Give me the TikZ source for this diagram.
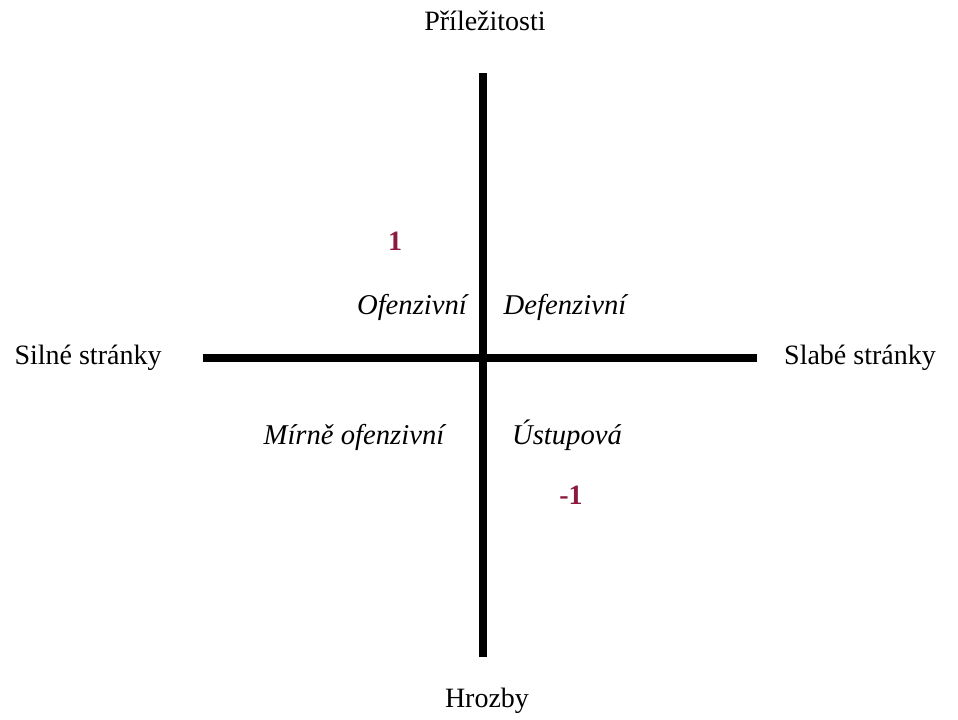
\documentclass[tikz,border=0pt]{standalone}
\usepackage{fontspec}
\setmainfont{Liberation Serif}
\definecolor{numred}{RGB}{139,26,60}
\begin{document}
\begin{tikzpicture}[x=0.75pt, y=-0.75pt]
    \useasboundingbox (0,0) rectangle (958,719);
    \tikzset{
        txt/.style={inner sep=0pt, text height=0.72em, text depth=0.22em},
        axislabel/.style={txt, font=\fontsize{21}{25}\selectfont},
        quadlabel/.style={txt, font=\fontsize{21.5}{25}\selectfont\itshape},
        numlabel/.style={txt, font=\fontsize{21}{25}\selectfont\bfseries, text=numred},
        axisline/.style={line width=6.7pt, black}
    }

    % 1. Koncové body os
    \path (483,73)  coordinate (T)
          (483,657) coordinate (B)
          (203,358) coordinate (L)
          (757,358) coordinate (R);

    % 2. Osy
    \draw[axisline] (T) -- (B);
    \draw[axisline] (L) -- (R);

    % 3. Popisky os
    \node[axislabel] (prilezitosti) at (485,27)  {Příležitosti};
    \node[axislabel] (hrozby)       at (487,704) {Hrozby};
    \node[axislabel] (silne)        at (88,361)  {Silné stránky};
    \node[axislabel] (slabe)        at (860,361) {Slabé stránky};

    % 4. Kvadranty
    \node[quadlabel] (ofenzivni)  at (412,311) {Ofenzivní};
    \node[quadlabel] (defenzivni) at (565,311) {Defenzivní};
    \node[quadlabel] (mirne)      at (354,441) {Mírně ofenzivní};
    \node[quadlabel] (ustupova)   at (567,441) {Ústupová};

    % 5. Čísla
    \node[numlabel] (jedna)  at (395,247) {1};
    \node[numlabel] (minus)  at (571,501) {-1};
\end{tikzpicture}
\end{document}
